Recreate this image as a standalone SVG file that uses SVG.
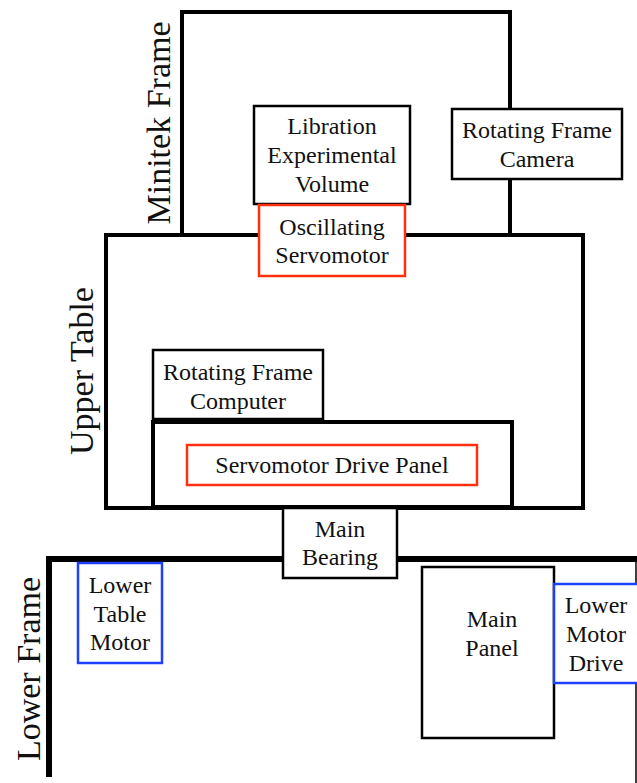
<svg xmlns="http://www.w3.org/2000/svg" width="637" height="783" viewBox="0 0 637 783">
  <style>
    text { font-family: "Liberation Serif", "Times New Roman", serif; fill: #111; text-anchor: middle; }
    .lbl { font-size: 24px; }
    .big { font-size: 34px; }
    .frame { fill: none; stroke: #000; stroke-width: 4; }
    .heavy { fill: none; stroke: #000; stroke-width: 6; }
    .box { fill: #fff; stroke: #000; stroke-width: 2.5; }
    .red { fill: #fff; stroke: #ff3010; stroke-width: 2.5; }
    .blue { fill: #fff; stroke: #1e40ff; stroke-width: 2.5; }
  </style>

  <!-- structural frames -->
  <g id="connectors">
    <path id="minitek-frame" class="frame" d="M182,235 V12 H510 V235"/>
    <rect id="upper-table" class="frame" x="106" y="235" width="477" height="273"/>
    <path id="lower-frame" class="heavy" d="M49,777 V559 H637"/>
    <line x1="636" y1="559" x2="636" y2="783" stroke="#000" stroke-width="1.5"/>
  </g>

  <g id="label-minitek">
    <text class="big" transform="translate(170,123) rotate(-90)">Minitek Frame</text>
  </g>
  <g id="label-upper-table">
    <text class="big" transform="translate(93,371) rotate(-90)">Upper Table</text>
  </g>
  <g id="label-lower-frame">
    <text class="big" transform="translate(40,669) rotate(-90)">Lower Frame</text>
  </g>

  <g id="libration-volume">
    <rect class="box" x="254" y="106" width="156" height="98"/>
    <text class="lbl" x="332" y="134">Libration</text>
    <text class="lbl" x="332" y="163">Experimental</text>
    <text class="lbl" x="332" y="192">Volume</text>
  </g>

  <g id="oscillating-servomotor">
    <rect class="red" x="259" y="205" width="146" height="71"/>
    <text class="lbl" x="332" y="235">Oscillating</text>
    <text class="lbl" x="332" y="263">Servomotor</text>
  </g>

  <g id="rotating-frame-camera">
    <rect class="box" x="452" y="109" width="170" height="70"/>
    <text class="lbl" x="537" y="138">Rotating Frame</text>
    <text class="lbl" x="537" y="167">Camera</text>
  </g>

  <g id="rotating-frame-computer">
    <rect class="box" x="153" y="350" width="170" height="69"/>
    <text class="lbl" x="238" y="380">Rotating Frame</text>
    <text class="lbl" x="238" y="409">Computer</text>
  </g>

  <g id="servomotor-drive-panel">
    <rect class="frame" x="153" y="422" width="359" height="85"/>
    <rect class="red" x="187" y="445" width="290" height="40"/>
    <text class="lbl" x="332" y="473">Servomotor Drive Panel</text>
  </g>

  <g id="main-bearing">
    <rect class="box" x="283" y="508" width="114" height="70"/>
    <text class="lbl" x="340" y="537">Main</text>
    <text class="lbl" x="340" y="565">Bearing</text>
  </g>

  <g id="lower-table-motor">
    <rect class="blue" x="78" y="563" width="84" height="100"/>
    <text class="lbl" x="120" y="593">Lower</text>
    <text class="lbl" x="120" y="622">Table</text>
    <text class="lbl" x="120" y="650">Motor</text>
  </g>

  <g id="main-panel">
    <rect class="box" x="422" y="567" width="132" height="171"/>
    <text class="lbl" x="492" y="627">Main</text>
    <text class="lbl" x="492" y="656">Panel</text>
  </g>

  <g id="lower-motor-drive">
    <rect class="blue" x="554" y="584" width="90" height="99"/>
    <text class="lbl" x="596" y="613">Lower</text>
    <text class="lbl" x="596" y="642">Motor</text>
    <text class="lbl" x="596" y="671">Drive</text>
  </g>
</svg>
